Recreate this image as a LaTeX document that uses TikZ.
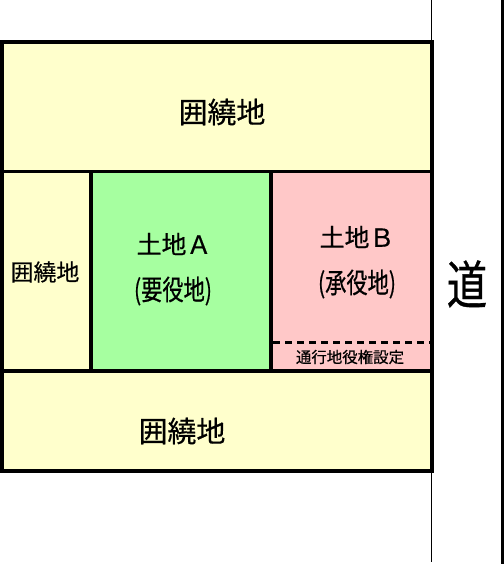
\documentclass[tikz,border=0pt]{standalone}
\usepackage{fontspec}
\usepackage{graphicx}
\newfontfamily\jp[FakeBold=0.6]{Noto Sans CJK JP}
\definecolor{yel}{RGB}{255,255,204}
\definecolor{grn}{RGB}{166,255,160}
\definecolor{pnk}{RGB}{255,200,200}
\tikzset{
  wall/.style={line width=3.5bp, line cap=rect},
  lbl/.style={inner sep=0pt, font=\jp},
}
\begin{document}
\begin{tikzpicture}[x=1bp,y=-1bp]
\useasboundingbox (0,0) rectangle (504,564);
% fills
\fill[yel] (2,42) rectangle (432,171.5);
\fill[yel] (2,171.5) rectangle (91,371);
\fill[grn] (91,171.5) rectangle (271,371);
\fill[pnk] (271,171.5) rectangle (432,371);
\fill[yel] (2,371) rectangle (432,471);
% road
\draw[line width=1bp] (431,0) -- (431,562);
\fill[black] (501,0) rectangle (504,564);
% walls
\draw[wall] (2,42) rectangle (432,471);
\draw[wall] (2,171.5) -- (432,171.5);
\draw[wall] (2,371) -- (432,371);
\draw[wall] (91,171.5) -- (91,371);
\draw[wall] (271,171.5) -- (271,371);
\draw[line width=3bp, dash pattern=on 7bp off 5bp] (273,342) -- (432,342);
% labels
\node[lbl, font=\jp\fontsize{29}{29}\selectfont] (top) at (222,112) {囲繞地};
\node[lbl, font=\jp\fontsize{23}{23}\selectfont] (left) at (45,272) {囲繞地};
\node[lbl, font=\jp\fontsize{29}{29}\selectfont] (bot) at (182,431) {囲繞地};
\node[lbl, font=\jp\fontsize{25}{25}\selectfont] (a) at (174,244) {土地Ａ};
\node[lbl, font=\jp\fontsize{28}{28}\selectfont] (areq) at (173,291) {\scalebox{0.76}[1]{(要役地)}};
\node[lbl, font=\jp\fontsize{25}{25}\selectfont] (b) at (357,237) {土地Ｂ};
\node[lbl, font=\jp\fontsize{28}{28}\selectfont] (bsrv) at (357,284) {\scalebox{0.76}[1]{(承役地)}};
\node[lbl, font=\jp\fontsize{15.5}{15.5}\selectfont] (ease) at (350,357) {通行地役権設定};
\node[lbl, font=\jp\fontsize{52}{52}\selectfont] (road) at (467,284) {\scalebox{0.78}[1]{道}};
\end{tikzpicture}
\end{document}
